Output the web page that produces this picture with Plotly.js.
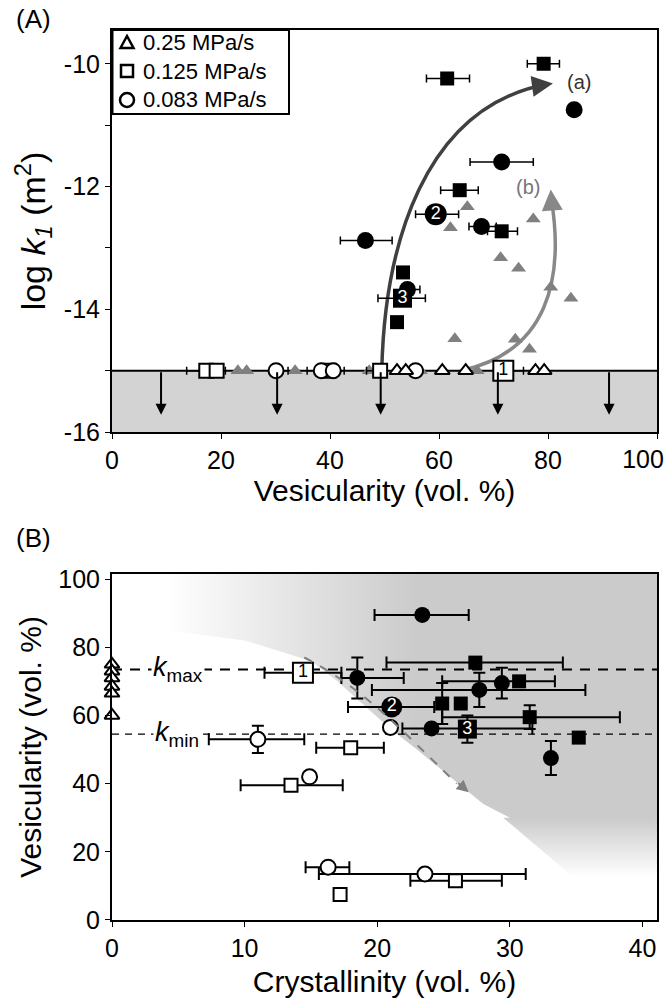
<!DOCTYPE html>
<html>
<head>
<meta charset="utf-8">
<script src="https://cdn.plot.ly/plotly-3.0.1.min.js"></script>
<style>html,body{margin:0;padding:0;background:#fff;}#chart{width:665px;height:1005px;}</style>
</head>
<body>
<div id="chart"></div>
<script>
// ---------- Panel A : log k1 vs vesicularity ----------
// permeable, 0.083 MPa/s (black circles)
const aCircX  = [84.8, 71.5, 67.8, 46.5, 54.2];
const aCircY  = [-10.75, -11.6, -12.65, -12.88, -13.68];
const aCircXm = [0, 5.8, 2.3, 4.6, 0];
const aCircXp = [0, 5.8, 2.7, 4.9, 2.3];
// permeable, 0.125 MPa/s (black squares)
const aSqX  = [79.2, 61.5, 63.8, 71.5, 53.4, 52.3];
const aSqY  = [-10.0, -10.24, -12.06, -12.73, -13.40, -14.21];
const aSqXm = [3.0, 3.8, 3.5, 2.6, 0, 0];
const aSqXp = [2.9, 4.1, 3.4, 2.9, 0, 0];
// permeable, 0.25 MPa/s (grey triangles)
const aTriX = [65.2, 62.1, 77.3, 71.3, 74.6, 80.5, 84.2, 62.9, 74.0, 76.6, 23.1, 24.7, 33.6, 47.2, 56.6, 67.0];
const aTriY = [-12.33, -12.67, -12.53, -13.16, -13.33, -13.64, -13.82, -14.48, -14.49, -14.65, -15, -15, -15, -15, -15, -15];
// impermeable (below detection limit, log k1 = -15)
const aOpenTriX = [52.3, 53.9, 60.6, 64.9, 77.7, 79.3];
const aOpenTriY = [-15, -15, -15, -15, -15, -15];
const aOpenCircX  = [30.1, 38.4, 40.6, 55.7];
const aOpenCircY  = [-15, -15, -15, -15];
const aOpenCircXm = [0, 2.6, 0, 0];
const aOpenCircXp = [2.2, 0, 2.0, 0];
const aOpenSqX  = [17.3, 19.2, 39.7, 49.2];
const aOpenSqY  = [-15, -15, -15, -15];
const aOpenSqXm = [3.6, 0, 0, 2.5];
const aOpenSqXp = [0, 1.6, 0, 0];
// numbered samples in panel A
const aLab1 = {x: [71.8], y: [-15], xm: [0], xp: [3.7], t: ['1']};
const aLab2 = {x: [59.4], y: [-12.45], xm: [3.7], xp: [4.2], t: ['2']};
const aLab3 = {x: [53.3], y: [-13.82], xm: [4.5], xp: [4.2], t: ['3']};
const limitArrowX = [9, 30.3, 49.3, 70.8, 91.2];
const detectionLimit = [-15];
const aTickVals = [0, 20, 40, 60, 80, 100];
const aTickText = ['0', '20', '40', '60', '80', ''];
const aEdgeTickVals = [100];
const aEdgeTickText = ['100'];

// ---------- Panel B : vesicularity vs crystallinity ----------
const bTriX = [0, 0, 0, 0, 0, 0];
const bTriY = [75, 73, 71, 68.5, 66.5, 60];
const bCircX  = [23.4, 18.5, 27.7, 29.4, 24.1, 33.1];
const bCircY  = [89.5, 71, 67.5, 69.5, 56.2, 47.5];
const bCircXm = [3.6, 1.2, 8.1, 0, 2.2, 0];
const bCircXp = [3.5, 3.5, 8.0, 0, 7.6, 0];
const bCircYe = [0, 6, 5, 4.5, 0, 5];
const bSqX  = [27.4, 24.9, 26.3, 30.7, 31.5, 35.2];
const bSqY  = [75.5, 63.5, 63.5, 70, 59.5, 53.5];
const bSqXm = [6.7, 0, 0, 5.8, 6.6, 0];
const bSqXp = [6.6, 0, 0, 2.7, 6.8, 0];
const bSqYe = [1.5, 6, 0, 0, 3.5, 0];
const bOpenCircX  = [11.0, 14.9, 21.0, 16.3, 23.6];
const bOpenCircY  = [53, 42, 56.5, 15.5, 13.5];
const bOpenCircXm = [3.7, 0, 0, 1.7, 8.0];
const bOpenCircXp = [3.5, 0, 0, 1.6, 7.6];
const bOpenCircYe = [4, 0, 0, 0, 0];
const bOpenSqX  = [18.0, 13.5, 17.2, 25.9];
const bOpenSqY  = [50.5, 39.5, 7.5, 11.5];
const bOpenSqXm = [2.6, 3.8, 0, 3.4];
const bOpenSqXp = [2.5, 3.9, 0, 3.5];
const bLab1 = {x: [14.4], y: [72.5], xm: [2.9], xp: [2.9], ye: [0], t: ['1']};
const bLab2 = {x: [21.1], y: [62.5], xm: [3.3], xp: [3.2], ye: [0], t: ['2']};
const bLab3 = {x: [26.8], y: [56], xm: [0], xp: [0], ye: [4], t: ['3']};
const kMax = [73.5];
const kMin = [54.5];
// background shading outline (schematic permeable field)
const shadeX = [2, 41.1, 41.1, 31, 28, 25.5, 23, 21, 19, 17, 15, 10, 2];
const shadeY = [101.5, 101.5, 30, 28, 34, 42, 50, 56, 63, 70, 76, 82, 86];
const fadeX = [29.5, 41.1, 41.1, 38];
const fadeY = [30, 30, 2, 2];
// legend
const legendLabels = ['0.25 MPa/s', '0.125 MPa/s', '0.083 MPa/s'];

const FONT = 'Liberation Sans, Arial, Helvetica, sans-serif';
const GREY = '#808080';

function errX(m, p, w, t) {
  return {type: 'data', symmetric: false, array: p, arrayminus: m, color: '#000', thickness: t || 2, width: w};
}
function errY(e, w) {
  return {type: 'data', array: e, color: '#000', thickness: 2, width: w};
}

const traces = [];
// ---- panel A traces ----
traces.push({x: aTriX, y: aTriY, mode: 'markers', showlegend: false, xaxis: 'x', yaxis: 'y',
  marker: {symbol: 'triangle-up', size: 13, color: GREY, line: {width: 0}}});
traces.push({x: aOpenSqX, y: aOpenSqY, mode: 'markers', showlegend: false, xaxis: 'x', yaxis: 'y',
  error_x: errX(aOpenSqXm, aOpenSqXp, 4, 1.5),
  marker: {symbol: 'square', size: 14, color: '#fff', line: {color: '#000', width: 2}}});
traces.push({x: aOpenCircX, y: aOpenCircY, mode: 'markers', showlegend: false, xaxis: 'x', yaxis: 'y',
  error_x: errX(aOpenCircXm, aOpenCircXp, 4, 1.5),
  marker: {symbol: 'circle', size: 15, color: '#fff', line: {color: '#000', width: 2}}});
traces.push({x: aOpenTriX, y: aOpenTriY, mode: 'markers', showlegend: false, xaxis: 'x', yaxis: 'y',
  marker: {symbol: 'triangle-up', size: 13, color: '#fff', line: {color: '#000', width: 2}}});
traces.push({x: aCircX, y: aCircY, mode: 'markers', showlegend: false, xaxis: 'x', yaxis: 'y',
  error_x: errX(aCircXm, aCircXp, 4, 1.5),
  marker: {symbol: 'circle', size: 17, color: '#000'}});
traces.push({x: aSqX, y: aSqY, mode: 'markers', showlegend: false, xaxis: 'x', yaxis: 'y',
  error_x: errX(aSqXm, aSqXp, 4, 1.5),
  marker: {symbol: 'square', size: 14, color: '#000'}});
traces.push({x: aLab1.x, y: aLab1.y, text: aLab1.t, mode: 'markers+text', textposition: 'middle center',
  textfont: {family: FONT, size: 18, color: '#000'}, showlegend: false, xaxis: 'x', yaxis: 'y',
  error_x: errX(aLab1.xm, aLab1.xp, 4, 1.5),
  marker: {symbol: 'square', size: 20, color: '#fff', line: {color: '#000', width: 2}}});
traces.push({x: aLab2.x, y: aLab2.y, text: aLab2.t, mode: 'markers+text', textposition: 'middle center',
  textfont: {family: FONT, size: 18, color: '#fff'}, showlegend: false, xaxis: 'x', yaxis: 'y',
  error_x: errX(aLab2.xm, aLab2.xp, 4, 1.5),
  marker: {symbol: 'circle', size: 22, color: '#000'}});
traces.push({x: aLab3.x, y: aLab3.y, text: aLab3.t, mode: 'markers+text', textposition: 'middle center',
  textfont: {family: FONT, size: 18, color: '#fff'}, showlegend: false, xaxis: 'x', yaxis: 'y',
  error_x: errX(aLab3.xm, aLab3.xp, 4, 1.5),
  marker: {symbol: 'square', size: 19, color: '#000'}});
// invisible carrier for the overlay axis holding the edge tick label
traces.push({x: [null], y: [null], mode: 'markers', showlegend: false, hoverinfo: 'skip', xaxis: 'x3', yaxis: 'y'});

// ---- panel B traces ----
traces.push({x: shadeX, y: shadeY, mode: 'lines', fill: 'toself', line: {width: 0}, showlegend: false,
  hoverinfo: 'skip', xaxis: 'x2', yaxis: 'y2',
  fillgradient: {type: 'horizontal', start: 4, stop: 23, colorscale: [[0, '#ffffff'], [1, '#cbcbcb']]}});
traces.push({x: fadeX, y: fadeY, mode: 'lines', fill: 'toself', line: {width: 0}, showlegend: false,
  hoverinfo: 'skip', xaxis: 'x2', yaxis: 'y2',
  fillgradient: {type: 'vertical', start: 2, stop: 30, colorscale: [[0, '#ffffff'], [0.38, '#ffffff'], [1, '#cbcbcb']]}});
traces.push({x: [0, 41.1], y: [kMax[0], kMax[0]], mode: 'lines', showlegend: false, hoverinfo: 'skip',
  xaxis: 'x2', yaxis: 'y2', line: {color: '#000', width: 2, dash: '10px,8px'}});
traces.push({x: [0, 41.1], y: [kMin[0], kMin[0]], mode: 'lines', showlegend: false, hoverinfo: 'skip',
  xaxis: 'x2', yaxis: 'y2', line: {color: '#000', width: 1.3, dash: '7px,6px'}});
traces.push({x: bTriX, y: bTriY, mode: 'markers', showlegend: false, xaxis: 'x2', yaxis: 'y2', cliponaxis: false,
  marker: {symbol: 'triangle-up', size: 13, color: '#fff', line: {color: '#000', width: 2}}});
traces.push({x: bOpenSqX, y: bOpenSqY, mode: 'markers', showlegend: false, xaxis: 'x2', yaxis: 'y2',
  error_x: errX(bOpenSqXm, bOpenSqXp, 6),
  marker: {symbol: 'square', size: 13, color: '#fff', line: {color: '#000', width: 2}}});
traces.push({x: bOpenCircX, y: bOpenCircY, mode: 'markers', showlegend: false, xaxis: 'x2', yaxis: 'y2',
  error_x: errX(bOpenCircXm, bOpenCircXp, 6), error_y: errY(bOpenCircYe, 6),
  marker: {symbol: 'circle', size: 15, color: '#fff', line: {color: '#000', width: 2}}});
traces.push({x: bCircX, y: bCircY, mode: 'markers', showlegend: false, xaxis: 'x2', yaxis: 'y2',
  error_x: errX(bCircXm, bCircXp, 6), error_y: errY(bCircYe, 6),
  marker: {symbol: 'circle', size: 16, color: '#000'}});
traces.push({x: bSqX, y: bSqY, mode: 'markers', showlegend: false, xaxis: 'x2', yaxis: 'y2',
  error_x: errX(bSqXm, bSqXp, 6), error_y: errY(bSqYe, 6),
  marker: {symbol: 'square', size: 14, color: '#000'}});
traces.push({x: bLab1.x, y: bLab1.y, text: bLab1.t, mode: 'markers+text', textposition: 'middle center',
  textfont: {family: FONT, size: 18, color: '#000'}, showlegend: false, xaxis: 'x2', yaxis: 'y2',
  error_x: errX(bLab1.xm, bLab1.xp, 6),
  marker: {symbol: 'square', size: 20, color: '#fff', line: {color: '#000', width: 2}}});
traces.push({x: bLab2.x, y: bLab2.y, text: bLab2.t, mode: 'markers+text', textposition: 'middle center',
  textfont: {family: FONT, size: 18, color: '#fff'}, showlegend: false, xaxis: 'x2', yaxis: 'y2',
  error_x: errX(bLab2.xm, bLab2.xp, 6),
  marker: {symbol: 'circle', size: 21, color: '#000'}});
traces.push({x: bLab3.x, y: bLab3.y, text: bLab3.t, mode: 'markers+text', textposition: 'middle center',
  textfont: {family: FONT, size: 18, color: '#fff'}, showlegend: false, xaxis: 'x2', yaxis: 'y2',
  error_y: errY(bLab3.ye, 6),
  marker: {symbol: 'square', size: 19, color: '#000'}});

// ---- shapes & annotations ----
// paper-coordinate helpers for the legend box (plot area: 112..657 px wide, 30..920 px tall)
const PL = 112, PW = 545, PB = 920, PH = 890;
function px(v) { return (v - PL) / PW; }
function py(v) { return (PB - v) / PH; }

const shapes = [
  {type: 'rect', xref: 'x', yref: 'y', x0: 0, x1: 100, y0: -16, y1: detectionLimit[0], fillcolor: '#d3d3d3', line: {width: 0}, layer: 'below'},
  {type: 'line', xref: 'x', yref: 'y', x0: 0, x1: 100, y0: detectionLimit[0], y1: detectionLimit[0], line: {color: '#000', width: 2}, layer: 'below'},
  {type: 'path', xref: 'x', yref: 'y', path: 'M 49.5,-15 C 50,-13 57,-10.7 80,-10.33', line: {color: '#404040', width: 3.5}, layer: 'below'},
  {type: 'path', xref: 'x', yref: 'y', path: 'M 64,-15 C 80,-14.7 83,-13.5 80.6,-12.2', line: {color: '#888888', width: 3.5}, layer: 'below'},
  {type: 'path', xref: 'x2', yref: 'y2', path: 'M 14.5,77 C 19,68 22,55 26,40', line: {color: '#808080', width: 2, dash: 'dash'}, layer: 'above'},
  // legend box and symbols
  {type: 'rect', xref: 'paper', yref: 'paper', x0: px(112.5), x1: px(289), y0: py(114), y1: py(30),
    fillcolor: '#fff', line: {color: '#000', width: 2}},
  {type: 'path', xref: 'paper', yref: 'paper',
    path: 'M ' + px(120.5) + ',' + py(48) + ' L ' + px(127) + ',' + py(36) + ' L ' + px(133.5) + ',' + py(48) + ' Z',
    fillcolor: '#fff', line: {color: '#000', width: 2.5}},
  {type: 'rect', xref: 'paper', yref: 'paper', x0: px(121), x1: px(133), y0: py(77), y1: py(65),
    fillcolor: '#fff', line: {color: '#000', width: 2.5}},
  {type: 'circle', xref: 'paper', yref: 'paper', x0: px(120), x1: px(134), y0: py(107), y1: py(93),
    fillcolor: '#fff', line: {color: '#000', width: 2.5}}
];

const annotations = [];
const legendRowsY = [42, 71, 100];
legendLabels.forEach(function (lab, i) {
  annotations.push({xref: 'paper', yref: 'paper', x: px(141), y: py(legendRowsY[i]), xanchor: 'left', yanchor: 'middle',
    text: lab, showarrow: false, font: {family: FONT, size: 22, color: '#000'}});
});
limitArrowX.forEach(function (xv) {
  annotations.push({xref: 'x', yref: 'y', axref: 'x', ayref: 'y', x: xv, y: -15.72, ax: xv, ay: detectionLimit[0],
    text: '', showarrow: true, arrowhead: 2, arrowsize: 1.1, arrowwidth: 2, arrowcolor: '#000'});
});
annotations.push({xref: 'x', yref: 'y', axref: 'x', ayref: 'y', x: 80.9, y: -10.32, ax: 78.5, ay: -10.35,
  text: '', showarrow: true, arrowhead: 2, arrowsize: 1.2, arrowwidth: 3.5, arrowcolor: '#404040'});
annotations.push({xref: 'x', yref: 'y', axref: 'x', ayref: 'y', x: 80.5, y: -12.05, ax: 80.8, ay: -12.4,
  text: '', showarrow: true, arrowhead: 2, arrowsize: 1.2, arrowwidth: 3.5, arrowcolor: '#888888'});
annotations.push({xref: 'x2', yref: 'y2', axref: 'x2', ayref: 'y2', x: 26.9, y: 37.5, ax: 26.0, ay: 40.5,
  text: '', showarrow: true, arrowhead: 2, arrowsize: 1.2, arrowwidth: 2, arrowcolor: '#808080'});
annotations.push({xref: 'x', yref: 'y', x: 85.6, y: -10.3, text: '(a)', showarrow: false,
  font: {family: FONT, size: 20, color: '#333'}});
annotations.push({xref: 'x', yref: 'y', x: 76.3, y: -12.0, text: '(b)', showarrow: false,
  font: {family: FONT, size: 20, color: '#777'}});
annotations.push({xref: 'x2', yref: 'y2', x: 5.0, y: kMax[0], text: '<i>k</i><sub>max</sub>', showarrow: false,
  bgcolor: 'rgba(255,255,255,1)', font: {family: FONT, size: 27, color: '#000'}});
annotations.push({xref: 'x2', yref: 'y2', x: 4.9, y: kMin[0], text: '<i>k</i><sub>min</sub>', showarrow: false,
  bgcolor: 'rgba(255,255,255,1)', font: {family: FONT, size: 27, color: '#000'}});
annotations.push({xref: 'paper', yref: 'paper', x: px(14), y: py(19), xanchor: 'left', yanchor: 'middle',
  text: '(A)', showarrow: false, font: {family: FONT, size: 26, color: '#000'}});
annotations.push({xref: 'paper', yref: 'paper', x: px(14), y: py(538), xanchor: 'left', yanchor: 'middle',
  text: '(B)', showarrow: false, font: {family: FONT, size: 26, color: '#000'}});

const axisCommon = {showline: true, linecolor: '#000', linewidth: 2, mirror: true, ticks: 'outside',
  ticklen: 5, tickwidth: 1, tickcolor: '#000', showgrid: false, zeroline: false,
  tickfont: {family: FONT, size: 25, color: '#000'}};

const layout = {
  width: 665, height: 1005,
  margin: {l: 112, r: 8, t: 30, b: 85},
  paper_bgcolor: '#fff', plot_bgcolor: 'rgba(0,0,0,0)',
  font: {family: FONT, color: '#000'},
  showlegend: false,
  xaxis: Object.assign({}, axisCommon, {domain: [0, 1], anchor: 'y', range: [0, 100], tickvals: aTickVals, ticktext: aTickText,
    title: {text: 'Vesicularity (vol. %)', font: {family: FONT, size: 30}, standoff: 4}}),
  // overlay axis carrying only the right-edge label "100", nudged inside the page
  xaxis3: {overlaying: 'x', anchor: 'y', side: 'bottom', range: [0, 100], tickvals: aEdgeTickVals, ticktext: aEdgeTickText,
    ticks: 'outside', ticklen: 5, tickcolor: 'rgba(0,0,0,0)', showline: false, showgrid: false, zeroline: false,
    ticklabelshift: -14, tickfont: {family: FONT, size: 25, color: '#000'}},
  yaxis: Object.assign({}, axisCommon, {domain: [0.5483, 1], anchor: 'x', range: [-16, -9.45],
    tickvals: [-16, -15, -14, -13, -12, -11, -10], ticktext: ['-16', '', '-14', '', '-12', '', '-10'],
    title: {text: 'log <i>k</i><sub><i>1</i></sub> (m<sup>2</sup>)', font: {family: FONT, size: 34}, standoff: 8}}),
  xaxis2: Object.assign({}, axisCommon, {domain: [0, 1], anchor: 'y2', range: [0, 41.1], tickvals: [0, 10, 20, 30, 40],
    title: {text: 'Crystallinity (vol. %)', font: {family: FONT, size: 30}, standoff: 10}}),
  yaxis2: Object.assign({}, axisCommon, {domain: [0, 0.3888], anchor: 'x2', range: [0, 101.5], tickvals: [0, 20, 40, 60, 80, 100],
    title: {text: 'Vesicularity (vol. %)', font: {family: FONT, size: 30}, standoff: 8}}),
  shapes: shapes,
  annotations: annotations
};

Plotly.newPlot('chart', traces, layout, {displayModeBar: false, staticPlot: true});
</script>
</body>
</html>
